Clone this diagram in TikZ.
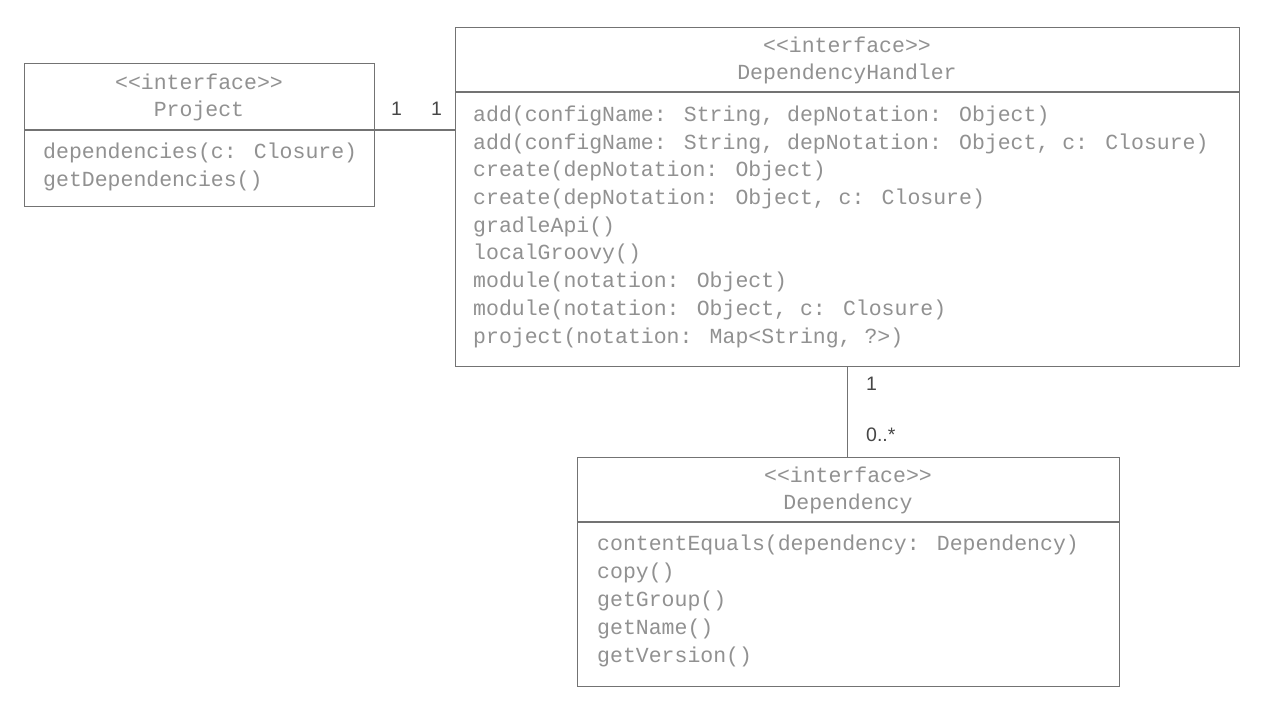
\documentclass[tikz,border=0pt]{standalone}
\usepackage{fontspec}
\newfontfamily\umlmono{Liberation Mono}
\newfontfamily\umlsans{Liberation Sans}
\definecolor{umltext}{RGB}{145,145,145}
\definecolor{umlline}{RGB}{115,115,115}
\definecolor{multtext}{RGB}{70,70,70}
\tikzset{
  classbox/.style={draw=umlline, line width=1.1pt, rectangle, inner sep=0pt, anchor=north west},
  divider/.style={draw=umlline, line width=1.1pt},
  member/.style={text=umltext, inner sep=0pt, anchor=mid west, yshift=-4pt, font=\umlmono\fontsize{21.5}{26}\selectfont},
  header/.style={text=umltext, inner sep=0pt, anchor=mid, yshift=-4pt, font=\umlmono\fontsize{21.5}{26}\selectfont},
  mult/.style={text=multtext, inner sep=0pt, anchor=mid west, yshift=-3pt, font=\umlsans\fontsize{19.5}{23}\selectfont},
  conn/.style={draw=umlline, line width=1.1pt}
}
\begin{document}
\begin{tikzpicture}[x=1pt,y=-1pt]
\useasboundingbox[fill=white] (0,0) rectangle (1266,708);

% Project
\node[classbox, minimum width=350pt, minimum height=143pt] (proj) at (24,63) {};
\draw[divider] (24,130) -- (374,130);
\node[header] (projst) at (199,83) {<<interface>>};
\node[header] (projname) at (199,110) {Project};
\node[member] (p1) at (43,152) {dependencies(c: Closure)};
\node[member] (p2) at (43,180) {getDependencies()};

% DependencyHandler
\node[classbox, minimum width=784pt, minimum height=339pt] (dh) at (455,27) {};
\draw[divider] (455,92) -- (1239,92);
\node[header] (dhst) at (847,46) {<<interface>>};
\node[header] (dhname) at (847,73) {DependencyHandler};
\node[member] (d1) at (473,115) {add(configName: String, depNotation: Object)};
\node[member] (d2) at (473,143) {add(configName: String, depNotation: Object, c: Closure)};
\node[member] (d3) at (473,170) {create(depNotation: Object)};
\node[member] (d4) at (473,198) {create(depNotation: Object, c: Closure)};
\node[member] (d5) at (473,226) {gradleApi()};
\node[member] (d6) at (473,253) {localGroovy()};
\node[member] (d7) at (473,281) {module(notation: Object)};
\node[member] (d8) at (473,309) {module(notation: Object, c: Closure)};
\node[member] (d9) at (473,337) {project(notation: Map<String, ?>)};

% Dependency
\node[classbox, minimum width=542pt, minimum height=229pt] (dep) at (577,457) {};
\draw[divider] (577,522) -- (1119,522);
\node[header] (depst) at (848,476) {<<interface>>};
\node[header] (depname) at (848,503) {Dependency};
\node[member] (e1) at (597,544) {contentEquals(dependency: Dependency)};
\node[member] (e2) at (597,572) {copy()};
\node[member] (e3) at (597,600) {getGroup()};
\node[member] (e4) at (597,628) {getName()};
\node[member] (e5) at (597,656) {getVersion()};

% connectors
\draw[conn] (proj.east |- 0,130) -- (dh.west |- 0,130);
\draw[conn] (dh.south) -- (dh.south |- dep.north);

% multiplicities
\node[mult] (m1) at (391,110) {1};
\node[mult] (m2) at (431,110) {1};
\node[mult] (m3) at (866,385) {1};
\node[mult] (m4) at (866,436) {0..*};
\end{tikzpicture}
\end{document}
